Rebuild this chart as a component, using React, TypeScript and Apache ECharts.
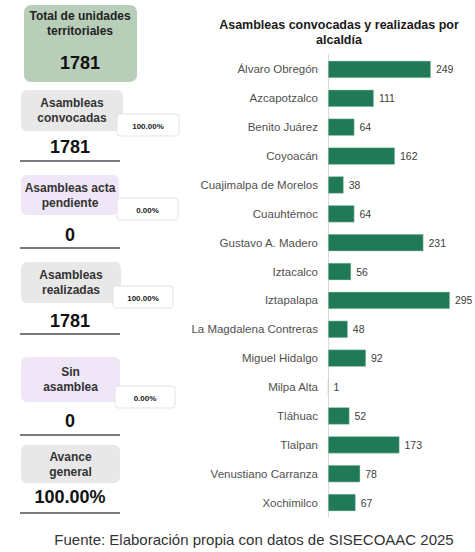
import React, { useEffect, useRef } from "react";
import * as echarts from "echarts";

const categories = [
  "Álvaro Obregón",
  "Azcapotzalco",
  "Benito Juárez",
  "Coyoacán",
  "Cuajimalpa de Morelos",
  "Cuauhtémoc",
  "Gustavo A. Madero",
  "Iztacalco",
  "Iztapalapa",
  "La Magdalena Contreras",
  "Miguel Hidalgo",
  "Milpa Alta",
  "Tláhuac",
  "Tlalpan",
  "Venustiano Carranza",
  "Xochimilco",
];
const values = [249, 111, 64, 162, 38, 64, 231, 56, 295, 48, 92, 1, 52, 173, 78, 67];

const panelTitles = [
  ["Asambleas", "convocadas"],
  ["Asambleas acta", "pendiente"],
  ["Asambleas", "realizadas"],
  ["Sin", "asamblea"],
  ["Avance", "general"],
];
const panelValues = ["1781", "0", "1781", "0", "100.00%"];
const panelPercents = ["100.00%", "0.00%", "100.00%", "0.00%", ""];
const totalTitle = ["Total de unidades", "territoriales"];
const totalValue = "1781";
const chartTitle = "Asambleas convocadas y realizadas por\nalcaldía";
const sourceText = "Fuente: Elaboración propia con datos de SISECOAAC 2025";

const FONT = "'Liberation Sans', Arial, sans-serif";

export default function App() {
  const ref = useRef<HTMLDivElement>(null);
  useEffect(() => {
    if (!ref.current) return;
    const chart = echarts.init(ref.current, null, { renderer: "svg" });

    const panelBoxes = [
      { y: 90, h: 41, w: 102, fill: "#e8e8e8", pct: { x: 117, y: 114, w: 62 } },
      { y: 175, h: 40, w: 98, fill: "#efe6f7", pct: { x: 117, y: 198, w: 61 } },
      { y: 262, h: 41, w: 100, fill: "#e8e8e8", pct: { x: 113, y: 286, w: 60 } },
      { y: 357, h: 45, w: 99, fill: "#efe6f7", pct: { x: 115, y: 386, w: 60 } },
      { y: 445, h: 38, w: 99, fill: "#e8e8e8", pct: null as any },
    ];
    const valueY = [147, 235, 321, 421, 497];
    const lineY = [161, 248, 334, 435, 513];

    const graphics: any[] = [];
    graphics.push({
      type: "rect",
      shape: { x: 24, y: 5, width: 113, height: 77, r: 7 },
      style: { fill: "#b8ceb9" },
    });
    graphics.push({
      type: "text",
      x: 80,
      y: 16,
      style: { text: totalTitle[0], font: `bold 12px ${FONT}`, fill: "#222", align: "center", verticalAlign: "middle" },
    });
    graphics.push({
      type: "text",
      x: 80,
      y: 31,
      style: { text: totalTitle[1], font: `bold 12px ${FONT}`, fill: "#222", align: "center", verticalAlign: "middle" },
    });
    graphics.push({
      type: "text",
      x: 80,
      y: 63,
      style: { text: totalValue, font: `bold 18px ${FONT}`, fill: "#111", align: "center", verticalAlign: "middle" },
    });

    panelBoxes.forEach((b, i) => {
      const cx = 21 + b.w / 2;
      graphics.push({
        type: "rect",
        shape: { x: 21, y: b.y, width: b.w, height: b.h, r: 6 },
        style: { fill: b.fill },
      });
      const mid = b.y + b.h / 2;
      graphics.push({
        type: "text",
        x: cx,
        y: mid - 7.5,
        style: { text: panelTitles[i][0], font: `bold 12px ${FONT}`, fill: "#333", align: "center", verticalAlign: "middle" },
      });
      graphics.push({
        type: "text",
        x: cx,
        y: mid + 7.5,
        style: { text: panelTitles[i][1], font: `bold 12px ${FONT}`, fill: "#333", align: "center", verticalAlign: "middle" },
      });
      graphics.push({
        type: "text",
        x: 70,
        y: valueY[i],
        style: { text: panelValues[i], font: `bold 18px ${FONT}`, fill: "#111", align: "center", verticalAlign: "middle" },
      });
      graphics.push({
        type: "line",
        shape: { x1: 20, y1: lineY[i], x2: 120, y2: lineY[i] },
        style: { stroke: "#7a7a7a", lineWidth: 2 },
      });
      if (b.pct && panelPercents[i]) {
        graphics.push({
          type: "rect",
          shape: { x: b.pct.x, y: b.pct.y, width: b.pct.w, height: 22, r: 3 },
          style: { fill: "#ffffff", stroke: "#e3e3e3", lineWidth: 1 },
          z: 10,
        });
        graphics.push({
          type: "text",
          x: b.pct.x + b.pct.w / 2,
          y: b.pct.y + 12,
          z: 11,
          style: { text: panelPercents[i], font: `bold 8px ${FONT}`, fill: "#222", align: "center", verticalAlign: "middle" },
        });
      }
    });

    graphics.push({
      type: "text",
      x: 254,
      y: 539,
      style: { text: sourceText, font: `15px ${FONT}`, fill: "#333", align: "center", verticalAlign: "middle" },
    });

    chart.setOption({
      animation: false,
      title: {
        text: chartTitle,
        left: 334,
        top: 12,
        textAlign: "center",
        textStyle: { fontFamily: FONT, fontWeight: "bold", fontSize: 12.5, color: "#1a1a1a", lineHeight: 15 },
      },
      grid: { left: 328, width: 124, top: 55, height: 462 },
      xAxis: {
        type: "value",
        min: 0,
        max: 300,
        show: false,
      },
      yAxis: {
        type: "category",
        data: categories,
        inverse: true,
        axisLine: { show: true, lineStyle: { color: "#d9d9d9", width: 1 } },
        axisTick: { show: false },
        axisLabel: { fontFamily: FONT, fontSize: 11.5, color: "#505050", margin: 10 },
      },
      series: [
        {
          type: "bar",
          data: values,
          barCategoryGap: "40%",
          itemStyle: { color: "#217a57", borderColor: "#b9d6c8", borderWidth: 0.5 },
          label: {
            show: true,
            position: "right",
            distance: 5,
            fontFamily: FONT,
            fontSize: 10.5,
            color: "#404040",
          },
        },
      ],
      graphic: graphics,
    });
    return () => chart.dispose();
  }, []);
  return <div ref={ref} style={{ position: "fixed", left: 0, top: 0, width: 475, height: 552, background: "#fff" }} />;
}
